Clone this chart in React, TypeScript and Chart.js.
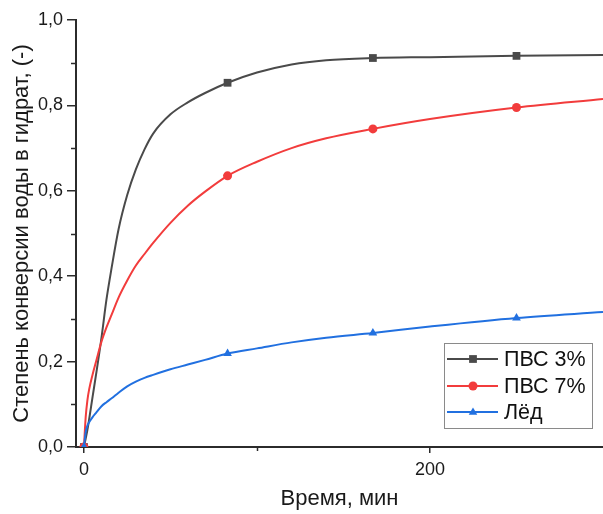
import React, { useEffect, useRef } from "react";
import { Chart, registerables } from "chart.js";

Chart.register(...registerables);

const timeMin = [0, 1, 2, 3, 5, 7, 10, 13, 16, 20, 25, 30, 35, 40, 50, 60, 70, 83, 100, 120, 140, 167, 200, 250, 300];
const pvs3 = [0, 0.02, 0.04, 0.065, 0.118, 0.17, 0.252, 0.345, 0.42, 0.51, 0.59, 0.65, 0.697, 0.734, 0.779, 0.807, 0.829, 0.853, 0.877, 0.896, 0.906, 0.911, 0.913, 0.916, 0.918];
const pvs7 = [0, 0.07, 0.11, 0.135, 0.17, 0.2, 0.245, 0.28, 0.31, 0.35, 0.39, 0.425, 0.452, 0.478, 0.525, 0.565, 0.598, 0.635, 0.668, 0.7, 0.723, 0.745, 0.768, 0.795, 0.815];
const ice = [0, 0.035, 0.05, 0.058, 0.07, 0.08, 0.095, 0.105, 0.114, 0.127, 0.142, 0.153, 0.162, 0.169, 0.182, 0.193, 0.204, 0.219, 0.231, 0.245, 0.256, 0.267, 0.282, 0.302, 0.316];
const markerTimes = [0, 83, 167, 250];

const seriesNames = ["ПВС 3%", "ПВС 7%", "Лёд"];
const seriesColors = ["#4a4a4a", "#f23c3c", "#2170e0"];
const seriesShapes = ["rect", "circle", "triangle"];

const xTicks = [0, 200];
const xMinorTicks = [100];
const yTicks = [0, 0.2, 0.4, 0.6, 0.8, 1.0];
const yMinorTicks = [0.1, 0.3, 0.5, 0.7, 0.9];

const xTitle = "Время, мин";
const yTitle = "Степень конверсии воды в гидрат, (-)";

const FONT = "'Liberation Sans', Arial, sans-serif";
const AXIS = "#2b2b2b";

function drawShape(ctx: CanvasRenderingContext2D, shape: string, x: number, y: number, r: number) {
  ctx.beginPath();
  if (shape === "rect") {
    const s = r * Math.SQRT1_2;
    ctx.rect(x - s, y - s, 2 * s, 2 * s);
  } else if (shape === "circle") {
    ctx.arc(x, y, r, 0, Math.PI * 2);
  } else {
    ctx.moveTo(x, y - r);
    ctx.lineTo(x + r * 0.95, y + r * 0.6);
    ctx.lineTo(x - r * 0.95, y + r * 0.6);
    ctx.closePath();
  }
  ctx.fill();
}

const extrasPlugin = {
  id: "extras",
  afterDraw(chart: any) {
    const ctx = chart.ctx as CanvasRenderingContext2D;
    const xs = chart.scales.x;
    const ys = chart.scales.y;
    const area = chart.chartArea;
    ctx.save();
    ctx.strokeStyle = AXIS;
    ctx.lineWidth = 1.5;
    for (const v of yMinorTicks) {
      const py = Math.round(ys.getPixelForValue(v)) + 0.5;
      ctx.beginPath();
      ctx.moveTo(area.left - 5, py);
      ctx.lineTo(area.left, py);
      ctx.stroke();
    }
    for (const v of xMinorTicks) {
      const px = Math.round(xs.getPixelForValue(v)) + 0.5;
      ctx.beginPath();
      ctx.moveTo(px, area.bottom);
      ctx.lineTo(px, area.bottom + 4);
      ctx.stroke();
    }
    // legend
    const bx = 444, by = 343, bw = 148, bh = 85;
    ctx.fillStyle = "#ffffff";
    ctx.fillRect(bx, by, bw, bh);
    ctx.strokeStyle = "#8a8a8a";
    ctx.lineWidth = 1;
    ctx.strokeRect(bx + 0.5, by + 0.5, bw, bh);
    const rows = [359, 386, 412];
    ctx.font = `21.5px ${FONT}`;
    ctx.textBaseline = "middle";
    ctx.textAlign = "left";
    seriesNames.forEach((name, i) => {
      const y = rows[i];
      ctx.strokeStyle = seriesColors[i];
      ctx.lineWidth = 2;
      ctx.beginPath();
      ctx.moveTo(447, y);
      ctx.lineTo(498, y);
      ctx.stroke();
      ctx.fillStyle = seriesColors[i];
      drawShape(ctx, seriesShapes[i], 473, y, i === 0 ? 5.5 : 4.5);
      ctx.fillStyle = "#111111";
      ctx.fillText(name, 504, y + 1);
    });
    ctx.restore();
  },
};

export default function App() {
  const ref = useRef<HTMLCanvasElement | null>(null);
  useEffect(() => {
    if (!ref.current) return;
    const mk = (vals: number[], i: number, order: number) => ({
      label: seriesNames[i],
      data: timeMin.map((t, k) => ({ x: t, y: vals[k] })),
      borderColor: seriesColors[i],
      backgroundColor: seriesColors[i],
      borderWidth: 2,
      pointStyle: seriesShapes[i],
      pointRadius: (c: any) => (markerTimes.includes(timeMin[c.dataIndex]) ? (i === 0 ? 5.5 : i === 1 ? 4.5 : 5) : 0),
      pointBorderWidth: 0,
      cubicInterpolationMode: "monotone",
      order,
    });
    const chart = new Chart(ref.current, {
      type: "line",
      data: {
        datasets: [mk(pvs3, 0, 3), mk(pvs7, 1, 2), mk(ice, 2, 1)] as any,
      },
      options: {
        animation: false,
        responsive: false,
        events: [],
        layout: { autoPadding: false, padding: { top: 20, right: 0, left: 0, bottom: 0 } },
        plugins: { legend: { display: false }, tooltip: { enabled: false } },
        scales: {
          x: {
            type: "linear",
            min: -4.6,
            max: 300,
            afterBuildTicks: (s: any) => {
              s.ticks = xTicks.map((v) => ({ value: v }));
            },
            afterFit: (s: any) => {
              s.height = 67;
              s.paddingLeft = 0;
              s.paddingRight = 0;
            },
            grid: { display: true, drawOnChartArea: false, drawTicks: true, tickLength: 6, color: AXIS, lineWidth: 1.5 },
            border: { display: true, color: AXIS, width: 2 },
            ticks: { font: { family: FONT, size: 18 }, color: "#1a1a1a", padding: 6, maxRotation: 0 },
            title: { display: true, text: xTitle, font: { family: FONT, size: 22 }, color: "#1a1a1a", padding: { top: 0, bottom: 2 } },
          },
          y: {
            type: "linear",
            min: 0,
            max: 1,
            afterBuildTicks: (s: any) => {
              s.ticks = yTicks.map((v) => ({ value: v }));
            },
            afterFit: (s: any) => {
              s.width = 76;
              s.paddingTop = 0;
              s.paddingBottom = 0;
            },
            grid: { display: true, drawOnChartArea: false, drawTicks: true, tickLength: 9, color: AXIS, lineWidth: 1.5 },
            border: { display: true, color: AXIS, width: 2 },
            ticks: {
              font: { family: FONT, size: 18 },
              color: "#1a1a1a",
              padding: 4,
              callback: (v: any) => Number(v).toFixed(1).replace(".", ","),
            },
            title: { display: true, text: yTitle, font: { family: FONT, size: 22 }, color: "#1a1a1a", padding: { top: 9, bottom: 0 } },
          },
        },
      },
      plugins: [extrasPlugin],
    } as any);
    return () => chart.destroy();
  }, []);
  return (
    <div style={{ position: "fixed", left: 0, top: 0, width: 603, height: 514, background: "#fff" }}>
      <canvas ref={ref} width={603} height={514} style={{ display: "block" }} />
    </div>
  );
}
